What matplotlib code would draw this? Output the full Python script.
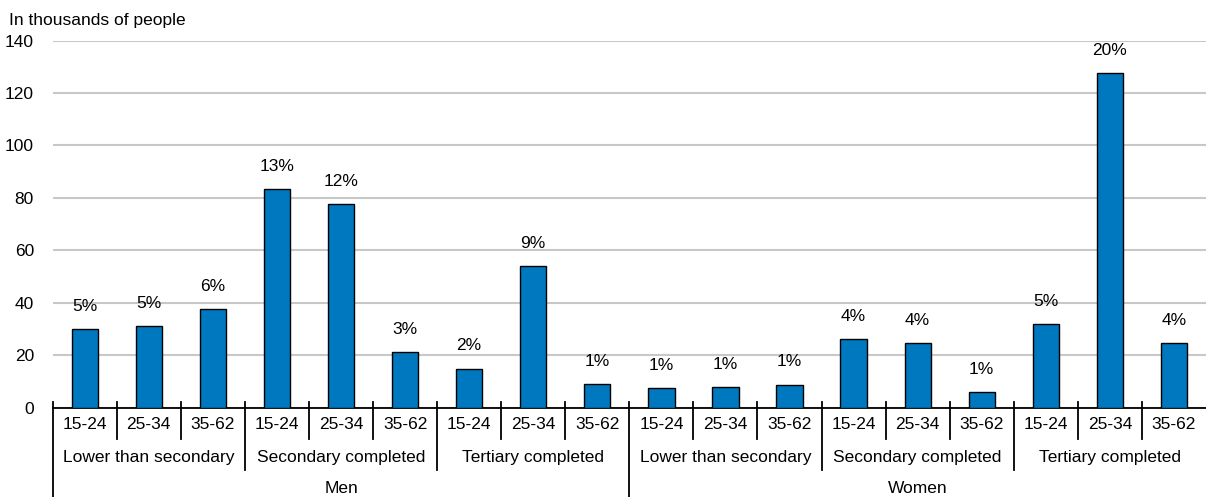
import matplotlib.pyplot as plt
import matplotlib.transforms as mtransforms

plt.rcParams['font.family'] = ['Liberation Sans', 'DejaVu Sans']
plt.rcParams['font.size'] = 12.5

genders = ['Men', 'Women']
levels = ['Lower than secondary', 'Secondary completed', 'Tertiary completed']
ages = ['15-24', '25-34', '35-62']

values = [30, 31.2, 37.5, 83.5, 77.5, 21.2, 14.9, 54.1, 8.9,
          7.5, 8, 8.8, 26, 24.5, 6, 32, 127.5, 24.5]
shares = ['5%', '5%', '6%', '13%', '12%', '3%', '2%', '9%', '1%',
          '1%', '1%', '1%', '4%', '4%', '1%', '5%', '20%', '4%']

fig = plt.figure(figsize=(12.06, 4.97), dpi=100)
ax = fig.add_axes([0.0437, 0.1797, 0.9563, 0.7388])

x = list(range(len(values)))
bars = ax.bar(x, values, width=0.41, color='#0078BF', edgecolor='black', linewidth=1, zorder=3)
for b, s in zip(bars, shares):
    ax.annotate(s, (b.get_x() + b.get_width() / 2, b.get_height()),
                xytext=(0, 16.3), textcoords='offset points', ha='center', va='center')

ax.set_xlim(-0.5, len(values) - 0.5)
ax.set_ylim(0, 140)
ax.set_yticks(range(0, 141, 20))
ax.tick_params(axis='y', length=0, pad=13.5)
ax.set_xticks([])
ax.yaxis.grid(True, color='#C8C8C8', linewidth=1.5, zorder=0)
for side in ['left', 'right', 'top']:
    ax.spines[side].set_visible(False)
ax.spines['bottom'].set_linewidth(1.3)

trans = mtransforms.blended_transform_factory(ax.transData, ax.transAxes)
top = 0.0155
n_age = len(ages)
n_lvl = len(levels) * n_age

# separators below the axis
for k in range(len(values)):
    xs = k - 0.5
    if k % n_lvl == 0:
        bottom = -0.243
    elif k % n_age == 0:
        bottom = -0.170
    else:
        bottom = -0.085
    ax.plot([xs, xs], [top, bottom], color='black', linewidth=1.3, transform=trans, clip_on=False)

# category labels, three rows
for i in x:
    ax.text(i, -0.047, ages[i % n_age], transform=trans, ha='center', va='center')
for j in range(len(genders) * len(levels)):
    ax.text(j * n_age + 1, -0.137, levels[j % len(levels)], transform=trans, ha='center', va='center')
for g, name in enumerate(genders):
    ax.text(g * n_lvl + (n_lvl - 1) / 2, -0.219, name, transform=trans, ha='center', va='center')

fig.text(9 / 1206, 1 - 20 / 497, 'In thousands of people', ha='left', va='center')

fig.savefig('out.png', dpi=100)
